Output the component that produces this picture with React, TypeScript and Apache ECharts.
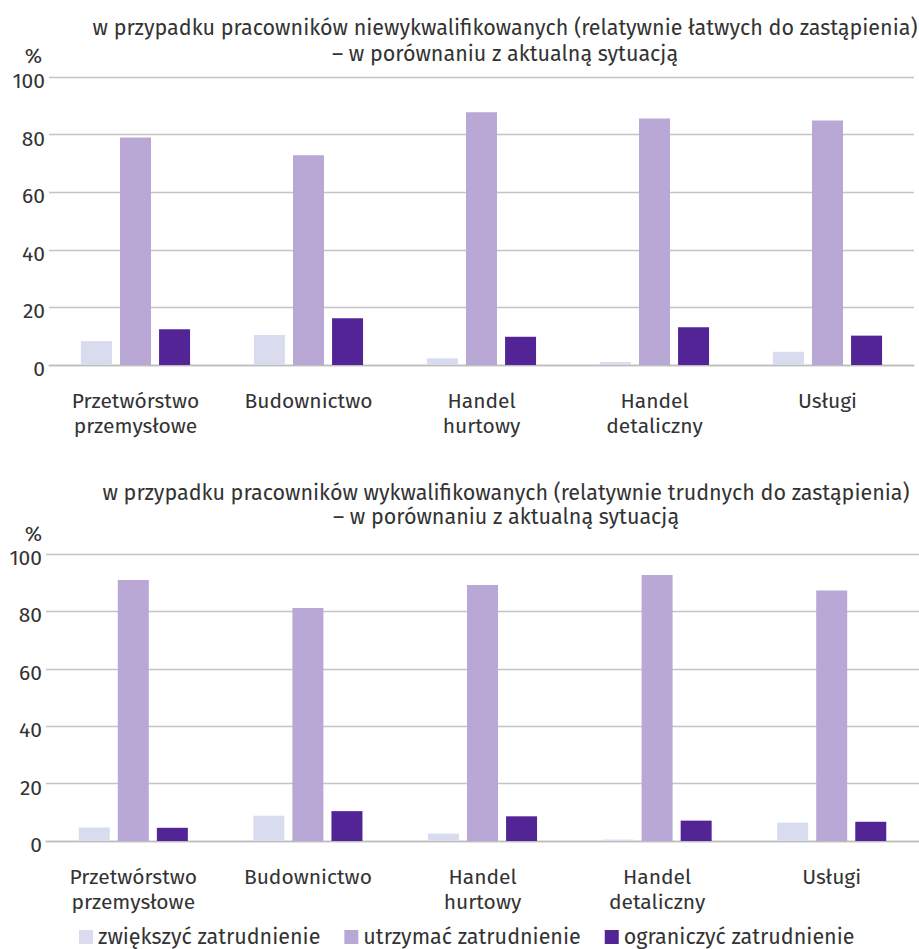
import React, { useEffect, useRef } from "react";
import * as echarts from "echarts";

const categories = [
  "Przetwórstwo\nprzemysłowe",
  "Budownictwo",
  "Handel\nhurtowy",
  "Handel\ndetaliczny",
  "Usługi",
];
const seriesNames = [
  "zwiększyć zatrudnienie",
  "utrzymać zatrudnienie",
  "ograniczyć zatrudnienie",
];
const colors = ["#d9dcef", "#b9a7d5", "#522496"];

// top chart: unskilled workers
const topIncrease = [8.3, 10.4, 2.3, 1.0, 4.6];
const topKeep = [79.0, 72.8, 87.8, 85.6, 84.9];
const topReduce = [12.4, 16.2, 9.8, 13.1, 10.2];

// bottom chart: skilled workers
const botIncrease = [4.7, 8.8, 2.6, 0.5, 6.4];
const botKeep = [90.9, 81.2, 89.2, 92.7, 87.3];
const botReduce = [4.6, 10.4, 8.6, 7.1, 6.7];

const topTitle = [
  "w przypadku pracowników niewykwalifikowanych (relatywnie łatwych do zastąpienia)",
  "– w porównaniu z aktualną sytuacją",
];
const botTitle = [
  "w przypadku pracowników wykwalifikowanych (relatywnie trudnych do zastąpienia)",
  "– w porównaniu z aktualną sytuacją",
];
const unitLabel = "%";

const FONT = "'Fira Sans', 'Open Sans', sans-serif";
const TEXT = "#333333";

export default function App() {
  const ref = useRef<HTMLDivElement>(null);
  useEffect(() => {
    if (!ref.current) return;
    const chart = echarts.init(ref.current, undefined, { renderer: "svg" });
    const topData = [topIncrease, topKeep, topReduce];
    const botData = [botIncrease, botKeep, botReduce];
    const mkSeries = (data: number[][], idx: number) =>
      data.map((d, i) => ({
        name: seriesNames[i],
        type: "bar",
        xAxisIndex: idx,
        yAxisIndex: idx,
        data: d,
        barWidth: 31,
        barGap: "26%",
        itemStyle: { color: colors[i] },
      }));
    const xAxis = (gi: number) => ({
      type: "category",
      gridIndex: gi,
      data: categories,
      axisTick: { show: false },
      axisLine: { lineStyle: { color: "#bdbdbd", width: 1.3 } },
      axisLabel: {
        color: TEXT,
        fontFamily: FONT,
        fontSize: 21,
        lineHeight: 25,
        margin: 23,
        interval: 0,
      },
    });
    const yAxis = (gi: number) => ({
      type: "value",
      gridIndex: gi,
      min: 0,
      max: 100,
      interval: 20,
      axisLine: { show: false },
      axisTick: { show: false },
      splitLine: { lineStyle: { color: "#c4c4c4", width: 1.3 } },
      axisLabel: {
        color: TEXT,
        fontFamily: FONT,
        fontSize: 21,
        margin: 4,
        verticalAlign: "top",
        lineHeight: 8,
      },
    });
    const txt = (text: string, x: number, y: number, align = "center", size = 21.5) => ({
      type: "text",
      x,
      y,
      style: {
        text,
        fill: TEXT,
        fontFamily: FONT,
        fontSize: size,
        align,
        verticalAlign: "middle",
      },
    });
    chart.setOption({
      animation: false,
      backgroundColor: "#ffffff",
      grid: [
        { left: 49, width: 865, top: 77, height: 288 },
        { left: 46, width: 882, top: 554, height: 287 },
      ],
      xAxis: [xAxis(0), xAxis(1)],
      yAxis: [yAxis(0), yAxis(1)],
      legend: {
        data: seriesNames,
        left: 79,
        top: 926,
        padding: 0,
        itemWidth: 14,
        itemHeight: 14,
        itemGap: 24,
        icon: "rect",
        textStyle: { color: TEXT, fontFamily: FONT, fontSize: 21.5, lineHeight: 22 },
      },
      graphic: [
        txt(topTitle[0], 505, 28),
        txt(topTitle[1], 505, 54),
        txt(unitLabel, 42, 56, "right", 21),
        txt(botTitle[0], 506, 493),
        txt(botTitle[1], 506, 517),
        txt(unitLabel, 42, 534, "right", 21),
      ],
      series: [...mkSeries(topData, 0), ...mkSeries(botData, 1)],
    });
    return () => chart.dispose();
  }, []);
  return (
    <div
      ref={ref}
      style={{ position: "absolute", left: 0, top: 0, width: 919, height: 949 }}
    />
  );
}
